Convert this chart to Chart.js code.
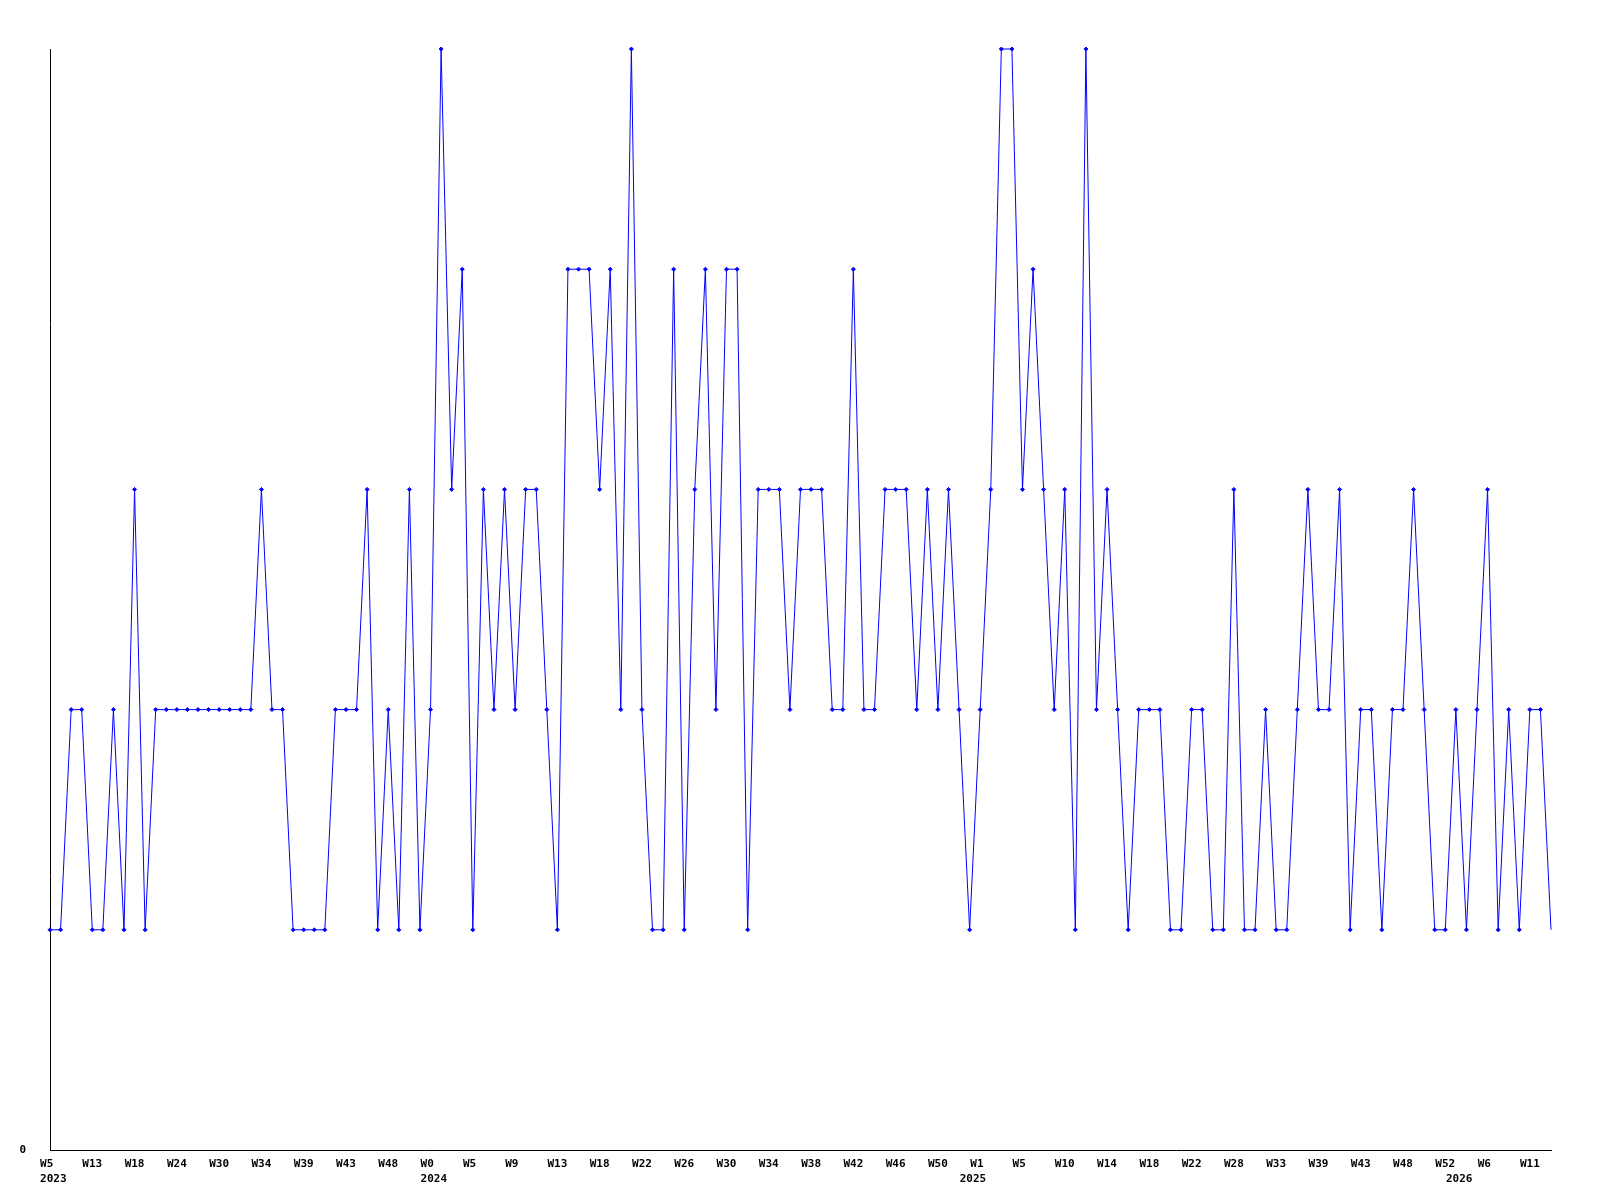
<!DOCTYPE html>
<html lang="en">
<head>
  <meta charset="UTF-8">
  <title>Weekly chart</title>
  <style>
    html, body { margin: 0; padding: 0; background: #fff; }
    #wrap { width: 1600px; height: 1200px; }
  </style>
</head>
<body>
  <div id="wrap"><canvas id="myChart" width="1600" height="1200"></canvas></div>
  <script src="https://cdn.jsdelivr.net/npm/chart.js"></script>
  <script>
    // one value per point, left to right
    const values = [
      1, 1, 2, 2, 1, 1, 2, 1, 3, 1, 2, 2, 2, 2, 2, 2, 2, 2, 2, 2, 3, 2, 2, 1,
      1, 1, 1, 2, 2, 2, 3, 1, 2, 1, 3, 1, 2, 5, 3, 4, 1, 3, 2, 3, 2, 3, 3, 2,
      1, 4, 4, 4, 3, 4, 2, 5, 2, 1, 1, 4, 1, 3, 4, 2, 4, 4, 1, 3, 3, 3, 2, 3,
      3, 3, 2, 2, 4, 2, 2, 3, 3, 3, 2, 3, 2, 3, 2, 1, 2, 3, 5, 5, 3, 4, 3, 2,
      3, 1, 5, 2, 3, 2, 1, 2, 2, 2, 1, 1, 2, 2, 1, 1, 3, 1, 1, 2, 1, 1, 2, 3,
      2, 2, 3, 1, 2, 2, 1, 2, 2, 3, 2, 1, 1, 2, 1, 2, 3, 1, 2, 1, 2, 2, 1
    ];

    // week labels, one on every 4th point
    const weekLabels = [
      'W5', 'W13', 'W18', 'W24', 'W30', 'W34', 'W39', 'W43', 'W48',
      'W0', 'W5', 'W9', 'W13', 'W18', 'W22', 'W26', 'W30', 'W34', 'W38', 'W42', 'W46', 'W50',
      'W1', 'W5', 'W10', 'W14', 'W18', 'W22', 'W28', 'W33', 'W39', 'W43', 'W48', 'W52',
      'W6', 'W11'
    ];
    const weekEvery = 4;

    // year labels and the point where each year starts
    const years = ['2023', '2024', '2025', '2026'];
    const yearStart = [0, 36, 87, 133];

    // build category labels (2 lines: week / year)
    const categories = values.map((v, i) => {
      let wk = '';
      if (i % weekEvery === 0 && weekLabels[i / weekEvery] !== undefined) {
        wk = weekLabels[i / weekEvery];
        if (wk.length < 3) wk = wk + ' ';
      }
      const yi = yearStart.indexOf(i);
      if (yi >= 0) return [wk, ' ' + years[yi]];
      return wk;
    });

    const font = { family: 'DejaVu Sans Mono', size: 11, weight: 'bold', lineHeight: 1.4 };
    const last = values.length - 1;

    new Chart(document.getElementById('myChart'), {
      type: 'line',
      data: {
        labels: categories,
        datasets: [{
          data: values,
          borderColor: '#0000ff',
          backgroundColor: '#0000ff',
          borderWidth: 1,
          pointStyle: 'rectRot',
          pointRadius: ctx => ctx.dataIndex === last ? 0 : 2,
          pointBorderWidth: 1,
          tension: 0,
          fill: false,
          clip: false
        }]
      },
      options: {
        responsive: false,
        animation: false,
        layout: { padding: { top: 49, right: 49, left: 0, bottom: 0 } },
        plugins: { legend: { display: false }, tooltip: { enabled: false } },
        scales: {
          x: {
            offset: false,
            grid: { display: false, drawTicks: false },
            border: { display: true, color: '#000', width: 1 },
            ticks: {
              autoSkip: false,
              maxRotation: 0,
              minRotation: 0,
              padding: 6,
              color: '#000',
              font: font
            },
            afterFit: s => { s.height = 50; }
          },
          y: {
            min: 0,
            max: 5,
            grid: { display: false, drawTicks: false },
            border: { display: true, color: '#000', width: 1 },
            ticks: {
              stepSize: 1,
              padding: 24,
              color: '#000',
              font: font,
              callback: v => v === 0 ? '0' : null
            },
            afterFit: s => { s.width = 50; }
          }
        }
      }
    });
  </script>
</body>
</html>
